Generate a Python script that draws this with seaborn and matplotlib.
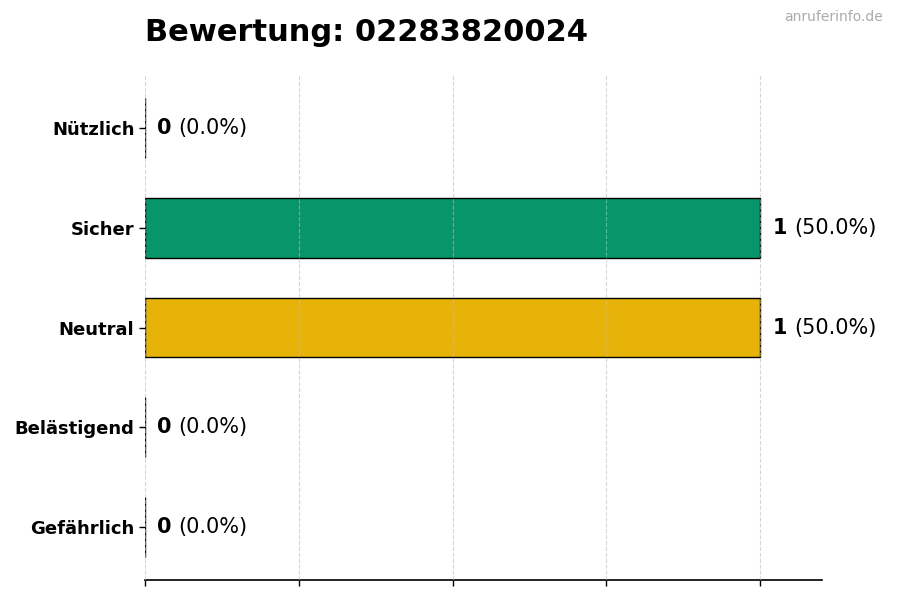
import pandas as pd
import seaborn as sns
import matplotlib.pyplot as plt

# --- Daten ---
kategorien = ['Nützlich', 'Sicher', 'Neutral', 'Belästigend', 'Gefährlich']
anzahl = [0, 1, 1, 0, 0]
farben = ['#2F7FC1', '#069669', '#E8B308', '#E67E22', '#D62728']
nummer = '02283820024'

gesamt = sum(anzahl)
prozent = [100 * a / gesamt for a in anzahl]
df = pd.DataFrame({'Kategorie': kategorien, 'Anzahl': anzahl})

sns.set_style('white')
plt.rcParams['text.color'] = 'black'
plt.rcParams['xtick.color'] = 'black'
plt.rcParams['ytick.color'] = 'black'
plt.rcParams['axes.labelcolor'] = 'black'

fig = plt.figure(figsize=(9, 6), dpi=100)
ax = fig.add_axes([0.161, 0.0333, 0.752, 0.8417])

sns.barplot(data=df, y='Kategorie', x='Anzahl', hue='Kategorie',
            palette=farben, order=kategorien, hue_order=kategorien,
            saturation=1, width=0.6, edgecolor='black', linewidth=1,
            legend=False, ax=ax)

ax.set_xlim(0, 1.1)
ax.set_ylim(4.53, -0.53)
ax.set_xticks([0, 0.25, 0.5, 0.75, 1.0])
ax.set_xticklabels([])
ax.set_xlabel('')
ax.set_ylabel('')
# Gitter liegt leicht über den Balken
ax.set_axisbelow(False)
ax.grid(axis='x', linestyle='--', color='#bbbbbb', linewidth=0.8, alpha=0.6)
ax.grid(axis='y', visible=False)
ax.tick_params(axis='both', length=4, width=1, color='black', bottom=True, left=True)
for lab in ax.get_yticklabels():
    lab.set_fontweight('bold')
    lab.set_fontsize(13)
    lab.set_color('black')

for s in ['top', 'right', 'left']:
    ax.spines[s].set_visible(False)
ax.spines['bottom'].set_color('black')
ax.spines['bottom'].set_linewidth(1.2)

# Beschriftung: Anzahl fett, Prozent normal
for i, (a, p) in enumerate(zip(anzahl, prozent)):
    t = ax.text(a + 0.02, i, str(a), fontsize=15, fontweight='bold',
                va='center', ha='left', color='black')
    ax.annotate(f'({p:.1f}%)', xy=(1, 0), xycoords=t, xytext=(5, 0),
                textcoords='offset points', fontsize=15, va='bottom',
                ha='left', color='black')

fig.text(0.161, 0.932, f'Bewertung: {nummer}', fontsize=22,
         fontweight='bold', va='baseline', ha='left', color='black')
fig.text(0.981, 0.972, 'anruferinfo.de', fontsize=10, color='#aaaaaa',
         va='center', ha='right')

fig.savefig('out.png', dpi=100)
